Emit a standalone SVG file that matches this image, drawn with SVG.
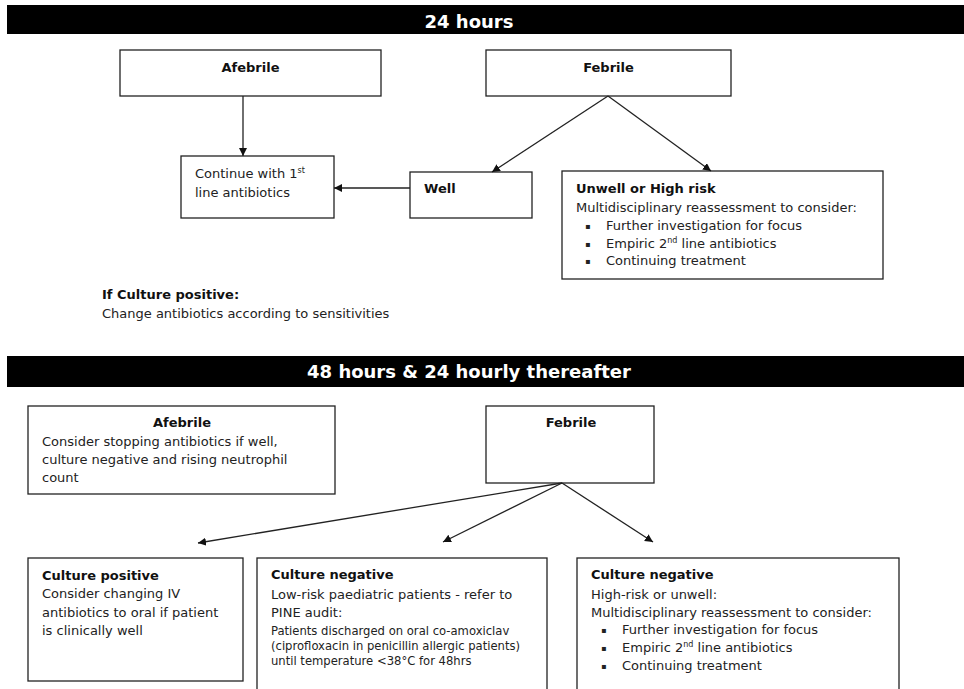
<svg xmlns="http://www.w3.org/2000/svg" width="964" height="689" viewBox="0 0 964 689">
<defs>
<marker id="arr" markerUnits="userSpaceOnUse" markerWidth="9" markerHeight="9" refX="8" refY="4" orient="auto">
<path d="M0,0 L8,4 L0,8 z" fill="#111"/>
</marker>
<style>
.box{fill:#fff;stroke:#222;stroke-width:1.3}
.bar{fill:#000}
.hd{font-family:"DejaVu Sans",Verdana,sans-serif;font-weight:bold;font-size:18px;fill:#fff;text-anchor:middle}
.t{font-family:"DejaVu Sans",Verdana,sans-serif;font-size:13px;fill:#222}
.b{font-family:"DejaVu Sans",Verdana,sans-serif;font-size:13px;font-weight:bold;fill:#111}
.s{font-family:"DejaVu Sans",Verdana,sans-serif;font-size:11.6px;fill:#222}
.bu{font-family:"DejaVu Sans",Verdana,sans-serif;font-size:8px;fill:#222}
.c{text-anchor:middle}
.sup{font-size:8px}
.conn{stroke:#222;stroke-width:1.3;fill:none;marker-end:url(#arr)}
</style>
</defs>
<rect width="964" height="689" fill="#fff"/>

<g id="header24">
<rect class="bar" x="7" y="5" width="957" height="29"/>
<text class="hd" x="469" y="28">24 hours</text>
</g>

<g id="afebrile24">
<rect class="box" x="120" y="50" width="261" height="46"/>
<text class="b c" x="250.5" y="72">Afebrile</text>
</g>

<g id="febrile24">
<rect class="box" x="486" y="50" width="245" height="46"/>
<text class="b c" x="608.5" y="72">Febrile</text>
</g>

<g id="continue24">
<rect class="box" x="181" y="156" width="153" height="62"/>
<text class="t" x="195" y="178">Continue with 1<tspan class="sup" dy="-5">st</tspan></text>
<text class="t" x="195" y="197">line antibiotics</text>
</g>

<g id="well24">
<rect class="box" x="410" y="172" width="122" height="46"/>
<text class="b" x="424" y="193">Well</text>
</g>

<g id="unwell24">
<rect class="box" x="562" y="171" width="321" height="108"/>
<text class="b" x="576" y="193">Unwell or High risk</text>
<text class="t" x="576" y="212">Multidisciplinary reassessment to consider:</text>
<text class="bu" x="585" y="229">▪</text>
<text class="t" x="606" y="230">Further investigation for focus</text>
<text class="bu" x="585" y="247">▪</text>
<text class="t" x="606" y="248">Empiric 2<tspan class="sup" dy="-5">nd</tspan><tspan dy="5"> line antibiotics</tspan></text>
<text class="bu" x="585" y="264">▪</text>
<text class="t" x="606" y="265">Continuing treatment</text>
</g>

<g id="note24">
<text class="b" x="102" y="299">If Culture positive:</text>
<text class="t" x="102" y="318">Change antibiotics according to sensitivities</text>
</g>

<g id="header48">
<rect class="bar" x="7" y="356" width="957" height="31"/>
<text class="hd" x="469" y="378">48 hours &amp; 24 hourly thereafter</text>
</g>

<g id="afebrile48">
<rect class="box" x="28" y="406" width="307" height="88"/>
<text class="b c" x="182" y="427">Afebrile</text>
<text class="t" x="42" y="446">Consider stopping antibiotics if well,</text>
<text class="t" x="42" y="464">culture negative and rising neutrophil</text>
<text class="t" x="42" y="482">count</text>
</g>

<g id="febrile48">
<rect class="box" x="486" y="406" width="168" height="77"/>
<text class="b c" x="571" y="427">Febrile</text>
</g>

<g id="culturepositive48">
<rect class="box" x="28" y="558" width="215" height="123"/>
<text class="b" x="42" y="580">Culture positive</text>
<text class="t" x="42" y="598">Consider changing IV</text>
<text class="t" x="42" y="617">antibiotics to oral if patient</text>
<text class="t" x="42" y="635">is clinically well</text>
</g>

<g id="culturenegativelow48">
<rect class="box" x="257" y="558" width="290" height="150"/>
<text class="b" x="271" y="579">Culture negative</text>
<text class="t" x="271" y="599">Low-risk paediatric patients - refer to</text>
<text class="t" x="271" y="617">PINE audit:</text>
<text class="s" x="271" y="635">Patients discharged on oral co-amoxiclav</text>
<text class="s" x="271" y="650">(ciprofloxacin in penicillin allergic patients)</text>
<text class="s" x="271" y="665">until temperature &lt;38°C for 48hrs</text>
</g>

<g id="culturenegativehigh48">
<rect class="box" x="577" y="558" width="322" height="150"/>
<text class="b" x="591" y="579">Culture negative</text>
<text class="t" x="591" y="599">High-risk or unwell:</text>
<text class="t" x="591" y="617">Multidisciplinary reassessment to consider:</text>
<text class="bu" x="601" y="633">▪</text>
<text class="t" x="622" y="634">Further investigation for focus</text>
<text class="bu" x="601" y="651">▪</text>
<text class="t" x="622" y="652">Empiric 2<tspan class="sup" dy="-5">nd</tspan><tspan dy="5"> line antibiotics</tspan></text>
<text class="bu" x="601" y="669">▪</text>
<text class="t" x="622" y="670">Continuing treatment</text>
</g>

<g id="connectors">
<line class="conn" x1="243" y1="96" x2="243" y2="156"/>
<line class="conn" x1="410" y1="188" x2="334" y2="188"/>
<line class="conn" x1="608" y1="96" x2="492" y2="172"/>
<line class="conn" x1="608" y1="96" x2="711" y2="171"/>
<line class="conn" x1="562" y1="483" x2="198" y2="543"/>
<line class="conn" x1="562" y1="483" x2="443" y2="542"/>
<line class="conn" x1="562" y1="483" x2="653" y2="542"/>
</g>
</svg>
